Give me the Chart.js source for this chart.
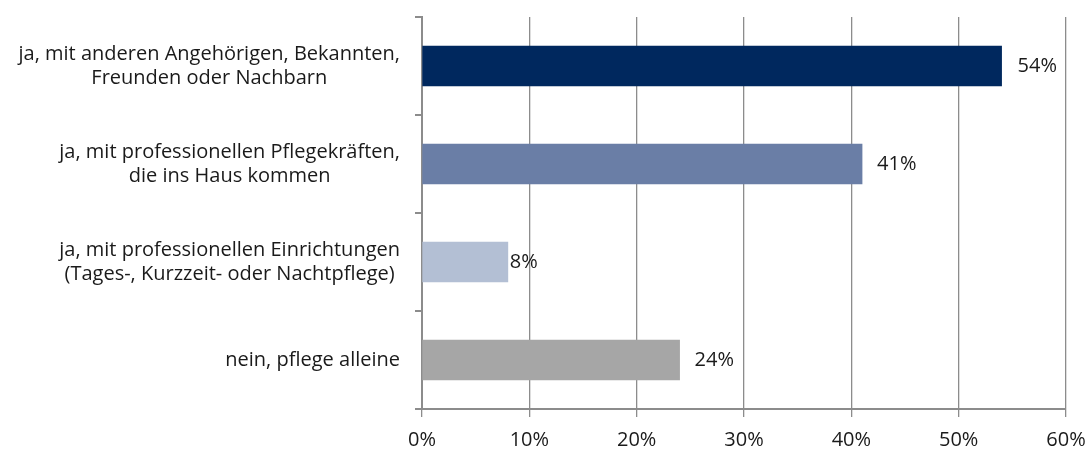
<!DOCTYPE html>
<html><head><meta charset="utf-8">
<script src="https://cdn.jsdelivr.net/npm/chart.js@4"></script>
<style>html,body{margin:0;padding:0;background:#fff}#wrap{width:1092px;height:450px}</style>
</head><body><div id="wrap"><canvas id="c"></canvas></div>
<script>
const categories = [
  ["ja, mit anderen Angehörigen, Bekannten,", "Freunden oder Nachbarn"],
  ["ja, mit professionellen Pflegekräften,", "die ins Haus kommen"],
  ["ja, mit professionellen Einrichtungen", "(Tages-, Kurzzeit- oder Nachtpflege)"],
  ["nein, pflege alleine"]
];
const values = [54, 41, 8, 24];
const valueLabels = ["54%", "41%", "8%", "24%"];
const barColors = ["#00285E", "#6A7EA6", "#B3BFD4", "#A6A6A6"];
const labelOffsets = [16, 15, 2, 15];
const FONT = "'Open Sans', sans-serif";

const catLabels = {
  id: 'catLabels',
  afterDraw(chart) {
    const ctx = chart.ctx, y = chart.scales.y;
    ctx.save();
    ctx.font = "20px " + FONT;
    ctx.fillStyle = "#1a1a1a";
    ctx.textBaseline = "middle";
    ctx.textAlign = "center";
    const right = 400, lh = 24;
    categories.forEach((lines, i) => {
      const cy = y.getPixelForValue(i);
      const w = Math.max(...lines.map(l => ctx.measureText(l).width));
      const cx = right - w / 2;
      const y0 = cy - (lines.length - 1) * lh / 2;
      lines.forEach((l, k) => ctx.fillText(l, cx, y0 + k * lh));
    });
    ctx.restore();
  }
};
const valLabels = {
  id: 'valLabels',
  afterDatasetsDraw(chart) {
    const ctx = chart.ctx, meta = chart.getDatasetMeta(0);
    ctx.save();
    ctx.font = "20px " + FONT;
    ctx.fillStyle = "#1a1a1a";
    ctx.textBaseline = "middle";
    ctx.textAlign = "left";
    meta.data.forEach((bar, i) => {
      ctx.fillText(valueLabels[i], bar.x + labelOffsets[i], bar.y);
    });
    ctx.restore();
  }
};

new Chart(document.getElementById('c'), {
  type: 'bar',
  data: {
    labels: categories.map(c => c.join(' ')),
    datasets: [{ data: values, backgroundColor: barColors, barThickness: 40, borderWidth: 0 }]
  },
  options: {
    indexAxis: 'y',
    responsive: true,
    maintainAspectRatio: false,
    animation: false,
    layout: { padding: { top: 17, right: 26, left: 0, bottom: 0 } },
    plugins: { legend: { display: false }, tooltip: { enabled: false } },
    scales: {
      x: {
        min: 0, max: 60,
        ticks: { stepSize: 10, callback: v => v + '%', font: { family: FONT, size: 20 }, color: '#1a1a1a', padding: 11, maxRotation: 0 },
        grid: { color: '#8c8c8c', lineWidth: 1.3, tickLength: 8, drawTicks: true },
        border: { color: '#8c8c8c', width: 2 },
        afterFit(s) { s.height = 41; s.paddingRight = 0; s.paddingLeft = 0; }
      },
      y: {
        ticks: { color: 'rgba(0,0,0,0)', font: { family: FONT, size: 16 } },
        grid: { offset: true, drawOnChartArea: false, drawTicks: true, tickLength: 7, color: '#8c8c8c', lineWidth: 2 },
        border: { color: '#8c8c8c', width: 2 },
        afterFit(s) { s.width = 422; s.paddingTop = 0; s.paddingBottom = 0; }
      }
    }
  },
  plugins: [catLabels, valLabels]
});
</script></body></html>
